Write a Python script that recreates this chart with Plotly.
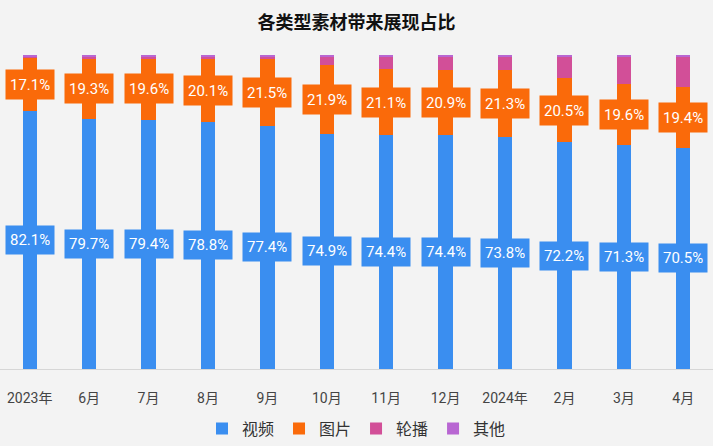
import plotly.graph_objects as go

categories = ["2023年", "6月", "7月", "8月", "9月", "10月", "11月", "12月", "2024年", "2月", "3月", "4月"]
video = [82.1, 79.7, 79.4, 78.8, 77.4, 74.9, 74.4, 74.4, 73.8, 72.2, 71.3, 70.5]
image = [17.1, 19.3, 19.6, 20.1, 21.5, 21.9, 21.1, 20.9, 21.3, 20.5, 19.6, 19.4]
carousel = [0.3, 0.5, 0.5, 0.6, 0.6, 2.7, 4.0, 4.2, 4.4, 6.8, 8.6, 9.6]
other = [0.5, 0.5, 0.5, 0.5, 0.5, 0.5, 0.5, 0.5, 0.5, 0.5, 0.5, 0.5]

series_names = ["视频", "图片", "轮播", "其他"]
colors = ["#3a8ef0", "#fa6a0a", "#d24f98", "#b866d2"]
series_vals = [video, image, carousel, other]

fig = go.Figure()
for name, vals, col in zip(series_names, series_vals, colors):
    fig.add_trace(go.Bar(
        x=categories, y=vals, name=name,
        marker=dict(color=col, line=dict(width=0)),
        width=0.24,
        hoverinfo="skip",
    ))

label_font = dict(family="Roboto, Noto Sans, sans-serif", size=15, color="#ffffff")
annotations = []
for i, c in enumerate(categories):
    annotations.append(dict(
        x=c, y=video[i] / 2, xref="x", yref="y", text=f"{video[i]:.1f}%",
        showarrow=False, bgcolor=colors[0], borderpad=4, height=20,
        font=label_font,
    ))
    annotations.append(dict(
        x=c, y=video[i] + image[i] / 2, xref="x", yref="y", text=f"{image[i]:.1f}%",
        showarrow=False, bgcolor=colors[1], borderpad=4, height=21,
        font=label_font,
    ))

fig.update_layout(
    barmode="stack",
    width=713, height=446,
    margin=dict(l=0, r=0, t=55, b=74),
    paper_bgcolor="#f3f3f3",
    plot_bgcolor="#f3f3f3",
    title=dict(
        text="<b>各类型素材带来展现占比</b>",
        x=0.5, xanchor="center", y=1 - 23 / 446, yanchor="middle", yref="container",
        font=dict(family="Noto Sans CJK SC", size=18, color="#111111"),
    ),
    xaxis=dict(
        type="category", showgrid=False, showline=True, linecolor="#d6d6d6", linewidth=1,
        ticks="outside", ticklen=16, tickcolor="rgba(0,0,0,0)",
        tickfont=dict(family="Roboto, Noto Sans CJK SC, sans-serif", size=14, color="#444444"),
        fixedrange=True,
    ),
    yaxis=dict(range=[0, 100], visible=False, showgrid=False, zeroline=False),
    legend=dict(
        orientation="h", x=0.5, xanchor="center", y=-0.19, yanchor="middle",
        font=dict(family="Noto Sans CJK SC", size=16, color="#333333"),
        bgcolor="rgba(0,0,0,0)", traceorder="normal", itemwidth=30,
    ),
    annotations=annotations,
    showlegend=True,
)

fig.write_html("out.html", config={"displayModeBar": False},
               post_script="document.body.style.margin='0';")
